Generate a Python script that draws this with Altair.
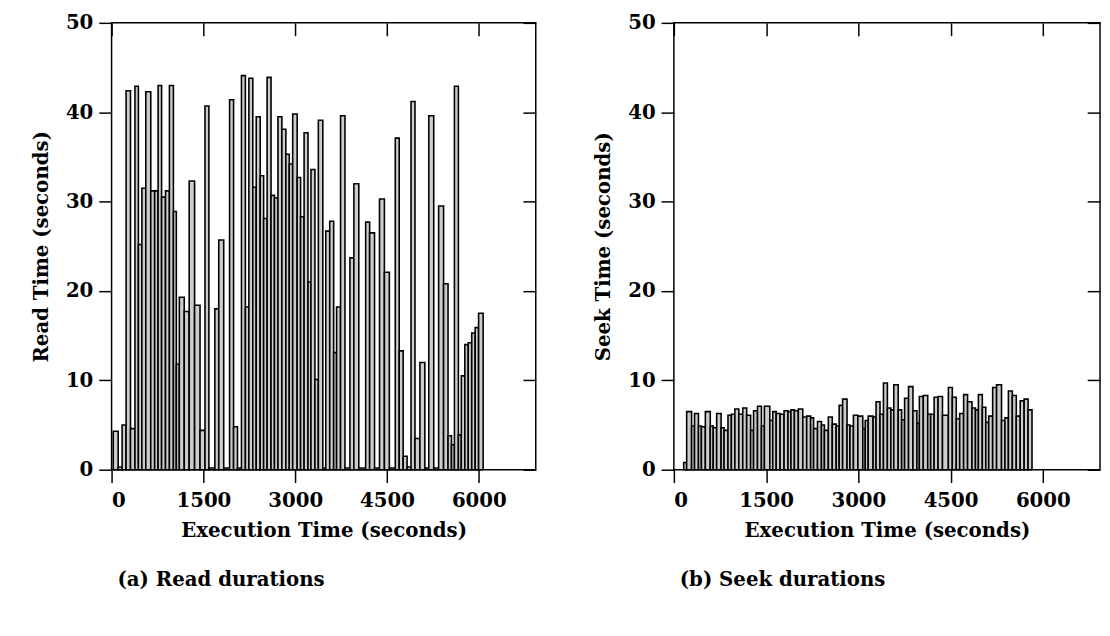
import altair as alt
import pandas as pd

# ---- data (seconds of execution time, bar heights in seconds) ----
read_start = [27, 108, 172, 237, 309, 382, 438, 495, 559, 640,
              704, 760, 817, 881, 945, 1010, 1058, 1107, 1187, 1268,
              1356, 1445, 1526, 1590, 1687, 1751, 1832, 1928, 1993, 2057,
              2122, 2186, 2243, 2307, 2363, 2428, 2484, 2541, 2605, 2661,
              2718, 2782, 2847, 2903, 2959, 3032, 3088, 3145, 3209, 3257,
              3322, 3378, 3451, 3499, 3564, 3628, 3676, 3741, 3813, 3894,
              3958, 4039, 4151, 4216, 4296, 4377, 4457, 4538, 4635, 4699,
              4764, 4828, 4892, 4957, 5037, 5118, 5182, 5263, 5343, 5424,
              5497, 5553, 5601, 5666, 5714, 5771, 5827, 5884, 5940, 5996]
read_secs = [4.3, 0.3, 5.0, 42.4, 4.6, 42.9, 25.2, 31.5, 42.3, 31.2,
             31.2, 43.0, 30.5, 31.2, 43.0, 28.9, 11.8, 19.3, 17.7, 32.3,
             18.4, 4.4, 40.7, 0.2, 18.0, 25.7, 0.2, 41.4, 4.8, 0.2,
             44.1, 18.2, 43.8, 31.6, 39.5, 32.9, 28.1, 43.9, 30.7, 30.4,
             39.5, 38.1, 35.3, 34.2, 39.8, 32.7, 28.3, 37.7, 21.0, 33.6,
             10.1, 39.1, 0.2, 26.7, 27.8, 13.1, 18.2, 39.6, 0.2, 23.7,
             32.0, 0.2, 27.7, 26.5, 0.2, 30.3, 22.1, 0.2, 37.1, 13.3,
             1.5, 0.3, 41.2, 3.5, 12.0, 0.2, 39.6, 0.2, 29.5, 20.8,
             3.8, 2.8, 42.9, 3.9, 10.5, 14.0, 14.2, 15.3, 15.9, 17.5]
read_last_end = 6070

seek_start = [160, 208, 288, 336, 400, 448, 512, 592, 640, 696,
              768, 816, 880, 935, 992, 1056, 1120, 1184, 1248, 1296,
              1360, 1424, 1472, 1560, 1608, 1664, 1728, 1792, 1856, 1904,
              1960, 2024, 2096, 2160, 2224, 2272, 2336, 2400, 2448, 2512,
              2576, 2640, 2688, 2744, 2816, 2864, 2920, 2992, 3072, 3112,
              3160, 3240, 3288, 3352, 3408, 3472, 3528, 3576, 3648, 3704,
              3752, 3816, 3888, 3952, 3992, 4056, 4128, 4176, 4232, 4296,
              4368, 4464, 4528, 4592, 4648, 4712, 4776, 4848, 4904, 4952,
              5016, 5072, 5120, 5184, 5248, 5328, 5384, 5440, 5504, 5568,
              5632, 5696, 5760]
seek_secs = [0.8, 6.5, 4.9, 6.3, 4.9, 4.8, 6.5, 4.9, 4.7, 6.3,
             4.7, 4.4, 6.1, 6.2, 6.8, 6.2, 6.9, 6.1, 4.4, 6.6,
             7.1, 4.9, 7.1, 5.5, 6.5, 6.3, 6.2, 6.6, 6.5, 6.7,
             6.6, 6.8, 5.9, 6.0, 5.8, 4.6, 5.4, 5.0, 4.4, 5.9,
             5.1, 4.9, 7.2, 7.9, 5.0, 4.9, 6.1, 6.0, 4.6, 5.5,
             6.0, 5.9, 7.6, 6.2, 9.7, 6.9, 6.7, 9.5, 6.7, 5.6,
             8.0, 9.3, 6.6, 5.2, 8.2, 8.3, 6.2, 6.2, 8.1, 8.2,
             6.1, 9.2, 8.1, 5.7, 6.3, 8.4, 7.6, 6.9, 6.7, 8.4,
             7.0, 5.3, 6.0, 9.2, 9.5, 5.5, 5.8, 8.8, 8.3, 6.0,
             7.7, 7.9, 6.7]
seek_last_end = 5824

x_ticks = [0, 1500, 3000, 4500, 6000]
y_ticks = [0, 10, 20, 30, 40, 50]
x_domain = [0, 6930]
y_domain = [0, 50]

x_title = "Execution Time (seconds)"
read_title = "Read Time (seconds)"
seek_title = "Seek Time (seconds)"
read_caption = "(a) Read durations"
seek_caption = "(b) Seek durations"

FONT = "DejaVu Serif"


def make_df(starts, secs, last_end):
    ends = starts[1:] + [last_end]
    return pd.DataFrame({"start": starts, "end": ends, "secs": secs})


def panel(df, ytitle, caption, w, h):
    xs = alt.Scale(domain=x_domain, nice=False, zero=False)
    ys = alt.Scale(domain=y_domain, nice=False)
    bars = alt.Chart(df).mark_bar(
        fill="#cccccc", stroke="black", strokeWidth=1.6
    ).encode(
        x=alt.X("start:Q", scale=xs,
                axis=alt.Axis(values=x_ticks, title=x_title, orient="bottom",
                              tickSize=13, domain=False, grid=False,
                              labelPadding=8, titlePadding=11, format="d")),
        x2="end:Q",
        y=alt.Y("secs:Q", scale=ys,
                axis=alt.Axis(values=y_ticks, title=ytitle, orient="left",
                              tickSize=13, domain=False, grid=False,
                              labelPadding=6, titlePadding=14, format="d")),
        y2=alt.datum(0),
    )
    ghost = alt.Chart(df).mark_bar(opacity=0).encode(
        x=alt.X("start:Q", scale=xs,
                axis=alt.Axis(values=x_ticks, orient="top", labels=False, title=None,
                              tickSize=13, offset=-13, domain=False, grid=False)),
        x2="end:Q",
        y=alt.Y("secs:Q", scale=ys,
                axis=alt.Axis(values=y_ticks, orient="right", labels=False, title=None,
                              tickSize=13, offset=-13, domain=False, grid=False)),
        y2=alt.datum(0),
    )
    return alt.layer(bars, ghost).resolve_axis(
        x="independent", y="independent"
    ).properties(
        width=w, height=h,
        title=alt.TitleParams(caption, orient="bottom", anchor="start", frame="group",
                              offset=30, dx=6, fontSize=20, font=FONT,
                              fontWeight="bold", color="black"),
    )


left = panel(make_df(read_start, read_secs, read_last_end), read_title, read_caption, 430, 453)
right = panel(make_df(seek_start, seek_secs, seek_last_end), seek_title, seek_caption, 432, 453)

chart = alt.hconcat(left, right, spacing=56).properties(
    padding={"left": 23, "top": 0, "right": 0, "bottom": 5},
    background="white",
).configure_view(
    stroke="black", strokeWidth=1.5
).configure_axis(
    tickColor="black", tickWidth=1.5,
    labelFont=FONT, labelFontSize=20, labelFontWeight="bold", labelColor="black",
    titleFont=FONT, titleFontSize=20, titleFontWeight="bold", titleColor="black",
)

chart.save("out.html", embed_options={"renderer": "svg", "actions": False})
